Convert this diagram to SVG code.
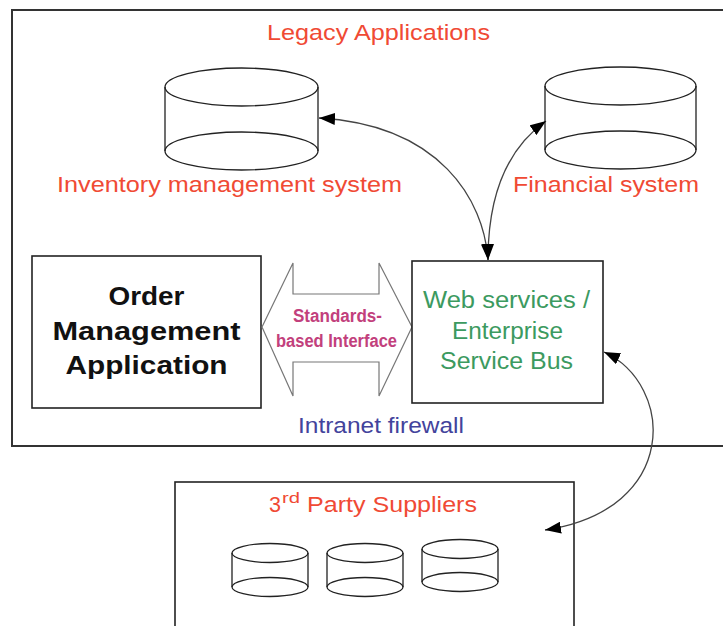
<svg xmlns="http://www.w3.org/2000/svg" width="723" height="626" viewBox="0 0 723 626">
<defs>
<style>
.box{fill:#fff;stroke:#222;stroke-width:1.6}
.outer{fill:none;stroke:#333;stroke-width:2}
.cyl{fill:none;stroke:#222;stroke-width:1.3}
.conn{fill:none;stroke:#444;stroke-width:1.3;marker-start:url(#ah);marker-end:url(#ah)}
.t{font-family:"Liberation Sans",Arial,sans-serif;font-size:22px;text-anchor:start}
.red{fill:#f04a34}
.green{fill:#3c9a60}
.blue{fill:#43439c}
.mag{fill:#c2407c;font-weight:bold;font-size:18px}
.blk{fill:#111;font-weight:bold;font-size:25px}
</style>
<marker id="ah" viewBox="0 0 16 12" refX="16" refY="6" markerWidth="16" markerHeight="12" markerUnits="userSpaceOnUse" orient="auto-start-reverse">
<path d="M0,0 L16,6 L0,12 Z" fill="#000"/>
</marker>
</defs>
<rect width="723" height="626" fill="#fff"/>

<g id="intranet">
<rect class="outer" x="12" y="10" width="716" height="436"/>
<text class="t red" x="267" y="40" textLength="223" lengthAdjust="spacingAndGlyphs">Legacy Applications</text>
<text class="t blue" x="298" y="433" textLength="166" lengthAdjust="spacingAndGlyphs">Intranet firewall</text>
</g>

<g id="inventory">
<path class="cyl" d="M165,87 L165,151 M318,87 L318,151"/>
<ellipse class="cyl" cx="241.5" cy="87" rx="76.5" ry="19"/>
<ellipse class="cyl" cx="241.5" cy="151" rx="76.5" ry="19"/>
<text class="t red" x="57" y="192" textLength="345" lengthAdjust="spacingAndGlyphs">Inventory management system</text>
</g>

<g id="financial">
<path class="cyl" d="M545,86 L545,150 M696,86 L696,150"/>
<ellipse class="cyl" cx="620.5" cy="86" rx="75.5" ry="19"/>
<ellipse class="cyl" cx="620.5" cy="150" rx="75.5" ry="19"/>
<text class="t red" x="513" y="192" textLength="186" lengthAdjust="spacingAndGlyphs">Financial system</text>
</g>

<g id="order">
<rect class="box" x="32" y="256" width="229" height="152"/>
<text class="t blk" x="108.5" y="305" textLength="76" lengthAdjust="spacingAndGlyphs">Order</text>
<text class="t blk" x="52.5" y="340" textLength="188" lengthAdjust="spacingAndGlyphs">Management</text>
<text class="t blk" x="65.5" y="374" textLength="162" lengthAdjust="spacingAndGlyphs">Application</text>
</g>

<g id="interface">
<polygon points="262,327 293,263 293,294 379,294 379,263 412,327 379,396 379,362 293,362 293,396" fill="#fff" stroke="#777" stroke-width="1.2"/>
<text class="t mag" x="293" y="322" textLength="89" lengthAdjust="spacingAndGlyphs">Standards-</text>
<text class="t mag" x="276" y="347" textLength="121" lengthAdjust="spacingAndGlyphs">based Interface</text>
</g>

<g id="esb">
<rect class="box" x="412" y="261" width="191" height="142"/>
<text class="t green" x="423" y="308" textLength="167" lengthAdjust="spacingAndGlyphs" style="font-size:23px">Web services /</text>
<text class="t green" x="452" y="339" textLength="111" lengthAdjust="spacingAndGlyphs" style="font-size:23px">Enterprise</text>
<text class="t green" x="440" y="369" textLength="133" lengthAdjust="spacingAndGlyphs" style="font-size:23px">Service Bus</text>
</g>

<g id="suppliers">
<rect class="box" x="175" y="482" width="399" height="160"/>
<text class="t red" x="269" y="512" textLength="12" lengthAdjust="spacingAndGlyphs">3</text>
<text class="t red" x="282" y="503" textLength="18" lengthAdjust="spacingAndGlyphs" style="font-size:14px">rd</text>
<text class="t red" x="307" y="512" textLength="170" lengthAdjust="spacingAndGlyphs">Party Suppliers</text>
<path class="cyl" d="M232,553 L232,587 M308,553 L308,587 M327,553 L327,587 M403,553 L403,587 M422,549 L422,582 M498,549 L498,582"/>
<ellipse class="cyl" cx="270" cy="553" rx="38" ry="9.5"/>
<ellipse class="cyl" cx="270" cy="587" rx="38" ry="9.5"/>
<ellipse class="cyl" cx="365" cy="553" rx="38" ry="9.5"/>
<ellipse class="cyl" cx="365" cy="587" rx="38" ry="9.5"/>
<ellipse class="cyl" cx="460" cy="549" rx="38" ry="9.5"/>
<ellipse class="cyl" cx="460" cy="582" rx="38" ry="9.5"/>
</g>

<g id="connectors">
<path class="conn" d="M488,260 C484,200 440,125 319,118"/>
<path class="conn" d="M488,260 C488,200 505,150 546,121"/>
<path class="conn" d="M604,352 C675,385 680,510 545,530"/>
</g>
</svg>
